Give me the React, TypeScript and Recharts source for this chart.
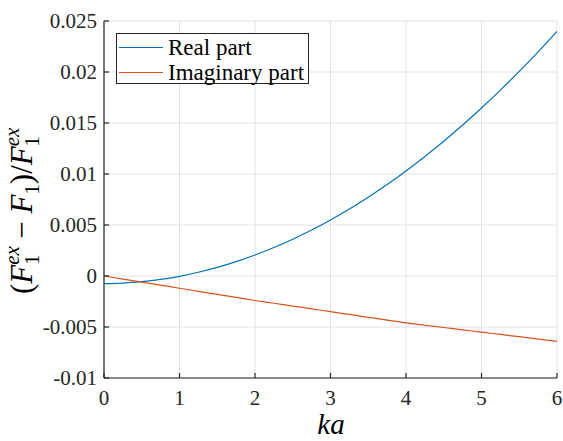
import React from 'react';
import { LineChart, Line, XAxis, YAxis, CartesianGrid, Legend } from 'recharts';

const kaValues = [0, 0.25, 0.5, 0.75, 1, 1.25, 1.5, 1.75, 2, 2.25, 2.5, 2.75, 3, 3.25, 3.5, 3.75, 4, 4.25, 4.5, 4.75, 5, 5.25, 5.5, 5.75, 6];
const realPart = [-0.00075, -0.0007, -0.00056, -0.00034, -0.00003, 0.00037, 0.00084, 0.00141, 0.00206, 0.00279, 0.00361, 0.00451, 0.0055, 0.00657, 0.00773, 0.00897, 0.0103, 0.01172, 0.01321, 0.0148, 0.01647, 0.01822, 0.02006, 0.02198, 0.02399];
const imagPart = [0, -0.0003, -0.0006, -0.0009, -0.0012, -0.0015, -0.0018, -0.0021, -0.0024, -0.00267, -0.00295, -0.00322, -0.0035, -0.00377, -0.00405, -0.00432, -0.0046, -0.00483, -0.00505, -0.00528, -0.0055, -0.00573, -0.00595, -0.00618, -0.0064];
const xTicks = [0, 1, 2, 3, 4, 5, 6];
const yTicks = [-0.01, -0.005, 0, 0.005, 0.01, 0.015, 0.02, 0.025];
const yTickLabels = ['-0.01', '-0.005', '0', '0.005', '0.01', '0.015', '0.02', '0.025'];
const seriesNames = ['Real part', 'Imaginary part'];
const seriesColors = ['#0072BD', '#D95319'];

const data = kaValues.map((ka, i) => ({ ka, real: realPart[i], imag: imagPart[i] }));

const FONT = 'Liberation Serif';
const AXIS = '#262626';

const yFmt = (v: number) => {
  const i = yTicks.findIndex((t) => Math.abs(t - v) < 1e-9);
  return i >= 0 ? yTickLabels[i] : String(v);
};

const XTick = (props: any) => {
  const { x, y, payload } = props;
  return (
    <text x={x} y={y} dy="0.71em" textAnchor="middle" fontFamily={FONT} fontSize={21} fill="#262626">
      {String(payload.value)}
    </text>
  );
};

const YTick = (props: any) => {
  const { x, y, payload } = props;
  return (
    <text x={x} y={y} dy="0.355em" textAnchor="end" fontFamily={FONT} fontSize={21} fill="#262626">
      {yFmt(payload.value)}
    </text>
  );
};

const YLabel = () => (
  <text
    transform="translate(32,294) rotate(-90)"
    textAnchor="start"
    fontFamily={FONT}
    fontSize={31}
    fill="#000"
  >
    <tspan>(</tspan>
    <tspan fontStyle="italic">F</tspan>
    <tspan fontStyle="italic" fontSize={21} dy={-13}>ex</tspan>
    <tspan fontSize={21} dx={-19} dy={20}>1</tspan>
    <tspan dx={8} dy={-7}>{' \u2212 '}</tspan>
    <tspan fontStyle="italic">F</tspan>
    <tspan fontSize={21} dy={7}>1</tspan>
    <tspan dy={-7}>)/</tspan>
    <tspan fontStyle="italic">F</tspan>
    <tspan fontStyle="italic" fontSize={21} dy={-13}>ex</tspan>
    <tspan fontSize={21} dx={-19} dy={20}>1</tspan>
  </text>
);

const XLabel = () => (
  <text x={331} y={434} textAnchor="middle" fontFamily={FONT} fontSize={29} fontStyle="italic" fill="#000">
    ka
  </text>
);

const LegendBox = () => (
  <div
    style={{
      width: 193,
      height: 51,
      border: `1px solid ${AXIS}`,
      background: '#fff',
      fontFamily: FONT,
      fontSize: 23,
      color: '#000',
      boxSizing: 'border-box',
      padding: '1px 0 0 2px',
      whiteSpace: 'nowrap',
    }}
  >
    {seriesNames.map((name, i) => (
      <div key={name} style={{ display: 'flex', alignItems: 'center', height: 25, lineHeight: '25px' }}>
        <div style={{ width: 44, height: 0, borderTop: `1.2px solid ${seriesColors[i]}`, marginRight: 5 }} />
        <span>{name}</span>
      </div>
    ))}
  </div>
);

export default function App() {
  return (
    <div style={{ position: 'absolute', left: 0, top: 0, width: 563, height: 441, background: '#fff' }}>
      <LineChart width={563} height={441} data={data} margin={{ top: 21, right: 6, bottom: 33, left: 44 }} style={{ fontFamily: FONT }}>
        <CartesianGrid xAxisId="b" yAxisId="l" stroke="#e2e2e2" strokeWidth={1} />
        <XAxis
          xAxisId="b"
          dataKey="ka"
          type="number"
          domain={[0, 6]}
          ticks={xTicks}
          orientation="bottom"
          height={30}
          stroke={AXIS}
          strokeWidth={1.2}
          tickSize={-5}
          tickMargin={17}
          tick={<XTick />}
          allowDataOverflow
        />
        <XAxis
          xAxisId="t"
          dataKey="ka"
          type="number"
          domain={[0, 6]}
          ticks={xTicks}
          orientation="top"
          height={0}
          stroke={AXIS}
          strokeWidth={1.2}
          tickSize={-5}
          tickFormatter={() => ''}
        />
        <YAxis
          yAxisId="l"
          type="number"
          domain={[-0.01, 0.025]}
          ticks={yTicks}
          orientation="left"
          width={60}
          stroke={AXIS}
          strokeWidth={1.2}
          tickSize={-5}
          tickMargin={12}
          tick={<YTick />}
          label={{ content: () => <YLabel /> }}
        />
        <YAxis
          yAxisId="r"
          type="number"
          domain={[-0.01, 0.025]}
          ticks={yTicks}
          orientation="right"
          width={0}
          stroke={AXIS}
          strokeWidth={1.2}
          tickSize={-5}
          tickFormatter={() => ''}
        />
        <Line xAxisId="b" yAxisId="l" dataKey="real" name={seriesNames[0]} stroke={seriesColors[0]} strokeWidth={1.2} dot={false} type="monotone" isAnimationActive={false} />
        <Line xAxisId="b" yAxisId="l" dataKey="imag" name={seriesNames[1]} stroke={seriesColors[1]} strokeWidth={1.2} dot={false} type="monotone" isAnimationActive={false} />
        <Legend
          layout="vertical"
          align="center"
          verticalAlign="middle"
          content={() => <LegendBox />}
          wrapperStyle={{ left: 116, top: 33, width: 193, height: 51 }}
        />
        <XLabel />
      </LineChart>
    </div>
  );
}
